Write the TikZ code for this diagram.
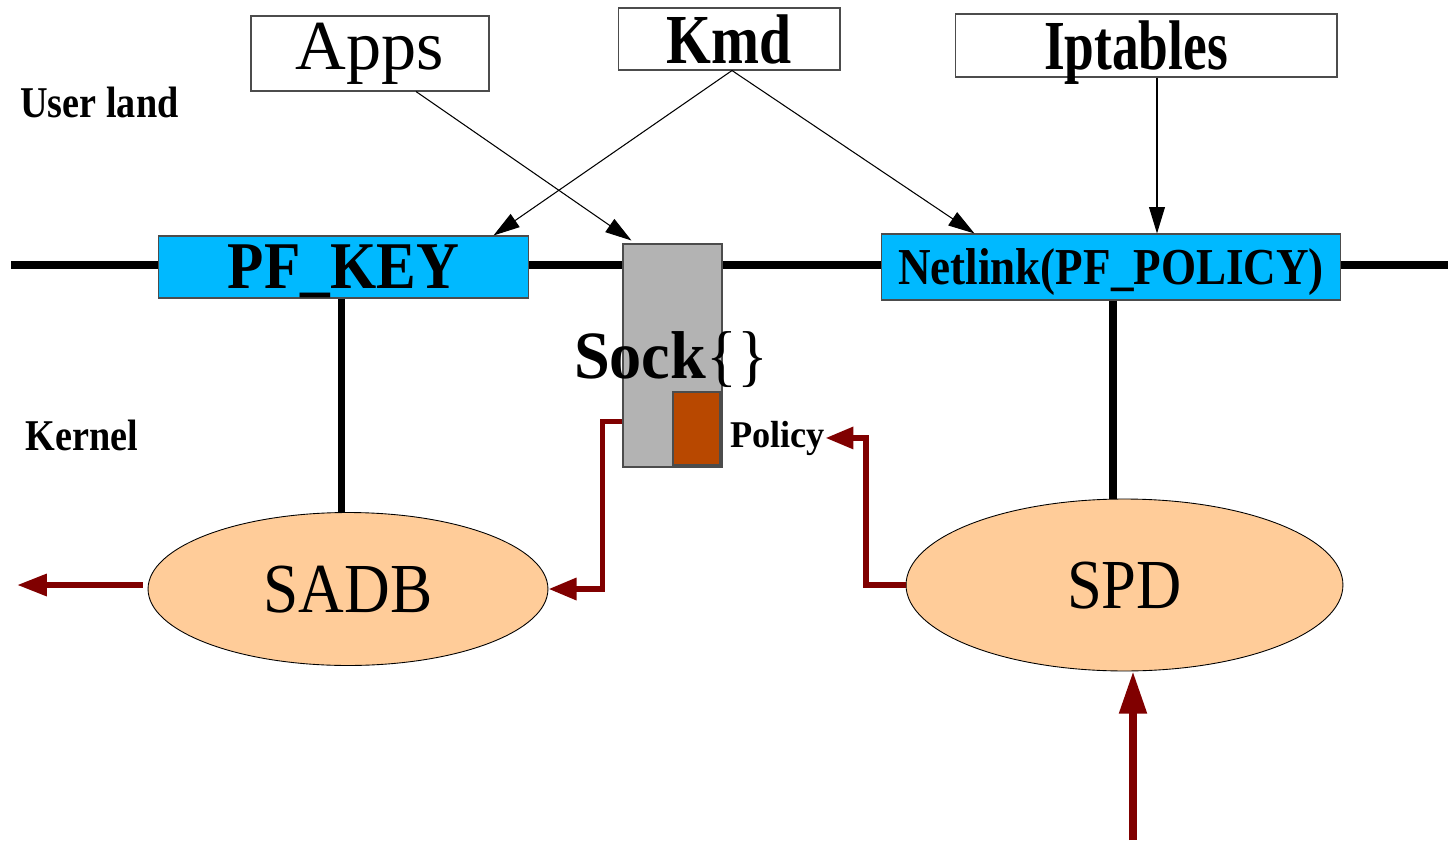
\documentclass[tikz,border=0pt]{standalone}
\usepackage{fontspec}
\setmainfont{Liberation Serif}
\usetikzlibrary{arrows.meta,%
                shapes,calc}

\definecolor{sockblue}{RGB}{0,185,255}
\definecolor{sockgray}{RGB}{179,179,179}
\definecolor{polorange}{RGB}{184,72,0}
\definecolor{dbpeach}{RGB}{255,204,153}
\definecolor{flowred}{RGB}{128,0,0}

\newcommand{\squeeze}[2]{\scalebox{#1}[1]{#2}}

\begin{document}
\begin{tikzpicture}[x=0.02cm, y=-0.02cm]
  \tikzset{BoxStyle/.style = {shape          = rectangle,
                              draw           = black!70,
                              line width     = 0.6pt,
                              text           = black,
                              inner sep      = 0pt}}
  \tikzset{SockStyle/.style = {BoxStyle, fill = sockblue, text depth = 0pt}}
  \tikzset{DbStyle/.style = {shape          = ellipse,
                             draw           = black,
                             line width     = 0.5pt,
                             fill           = dbpeach,
                             inner sep      = 0pt,
                             text depth     = 0pt,
                             font           = \fontsize{40}{44}\selectfont}}
  \tikzset{ThinArrow/.style = {draw=black, line width=0.6pt,
                               -{Triangle[length=15pt,width=9pt]}}}
  \tikzset{FlowArrow/.style = {draw=flowred, line width=3.4pt,
                               -{Triangle[length=16pt,width=12pt]}}}
  \tikzset{BusLine/.style = {draw=black, line width=4.5pt}}
  \useasboundingbox (0,0) rectangle (1448,842);
    %%% BUS %%%
    \coordinate (busL) at (11,265);
    \coordinate (busR) at (1448,265);
    \draw[BusLine] (busL) -- (busR);
    %%% USER LAND %%%
    \node[anchor=base west, inner sep=0pt, font=\fontsize{25}{28}\selectfont\bfseries](user) at (20,117){\squeeze{0.87}{User land}};
    \node[BoxStyle, minimum width=47.6mm, minimum height=15mm, font=\fontsize{40}{44}\selectfont](apps) at (370,53.5){Apps};
    \node[BoxStyle, minimum width=44.4mm, minimum height=12.4mm, font=\fontsize{40}{44}\selectfont\bfseries](kmd) at (729,39){\squeeze{0.82}{Kmd}};
    \node[BoxStyle, minimum width=76.4mm, minimum height=12.6mm, text depth=0pt, font=\fontsize{40}{44}\selectfont\bfseries](ipt) at (1146,45.5){\hspace*{-4mm}\squeeze{0.76}{Iptables}};
    %%% SOCKETS %%%
    \node[SockStyle, minimum width=74.2mm, minimum height=12.4mm, font=\fontsize{38}{42}\selectfont\bfseries](pfkey) at (343.5,267){\squeeze{0.89}{PF\_KEY}};
    \node[SockStyle, minimum width=92mm, minimum height=13.2mm, font=\fontsize{29.5}{33}\selectfont\bfseries](netlink) at (1111,267){\squeeze{0.87}{Netlink(PF\_POLICY)}};
    \node[BoxStyle, fill=sockgray, minimum width=19.8mm, minimum height=44.6mm](sock) at (672.5,355.5){};
    \node[BoxStyle, fill=polorange, minimum width=9.4mm, minimum height=14.6mm](pol) at (696.5,428.5){};
    \node[anchor=base, inner sep=0pt, font=\fontsize{38.5}{42}\selectfont\bfseries](socklbl) at (671,378){\squeeze{0.95}{Sock{\mdseries\{\}}}};
    \node[anchor=base west, inner sep=0pt, font=\fontsize{21.5}{24}\selectfont\bfseries](policy) at (730,447){\squeeze{0.96}{Policy}};
    %%% KERNEL %%%
    \node[anchor=base west, inner sep=0pt, font=\fontsize{25}{28}\selectfont\bfseries](kernel) at (25,450){\squeeze{0.87}{Kernel}};
    \node[DbStyle, minimum width=80mm, minimum height=30.6mm](sadb) at (348,589){\squeeze{0.9}{SADB}};
    \node[DbStyle, minimum width=87.4mm, minimum height=34.4mm](spd) at (1124.5,585){\squeeze{0.89}{SPD}};
    \draw[BusLine] ($(pfkey.south)+(-2,0)$) -- ($(pfkey.south |- sadb.north)+(-2,0)$);
    \draw[BusLine] ($(netlink.south)+(2,0)$) -- ($(netlink.south |- spd.north)+(2,0)$);
    %%% CALLS %%%
    \draw[ThinArrow] ($(apps.south)+(46,0)$) -- ($(sock.north west)+(9,-3)$);
    \draw[ThinArrow] ($(kmd.south)+(3,0)$) -- ($(pfkey.north east)+(-36,0)$);
    \draw[ThinArrow] ($(kmd.south)+(3,0)$) -- ($(netlink.north west)+(94,0)$);
    \draw[ThinArrow] ($(ipt.south)+(11,0)$) -- ($(netlink.north)+(46,0)$);
    %%% FLOWS %%%
    \coordinate (out) at (17,585);
    \coordinate (in) at (1133,840);
    \draw[FlowArrow] ($(sock.south west)+(0,-46)$) -- ++(-20,0) |- (sadb.east);
    \draw[FlowArrow] (spd.west) -- ++(-40,0) |- (policy.east);
    \draw[FlowArrow, -{Triangle[length=17pt,width=12pt]}] ($(sadb.west)+(-5,-4)$) -- (out);
    \draw[FlowArrow, line width=4pt, -{Triangle[length=24pt,width=15pt]}] (in) -- (in |- spd.south);
\end{tikzpicture}
\end{document}
